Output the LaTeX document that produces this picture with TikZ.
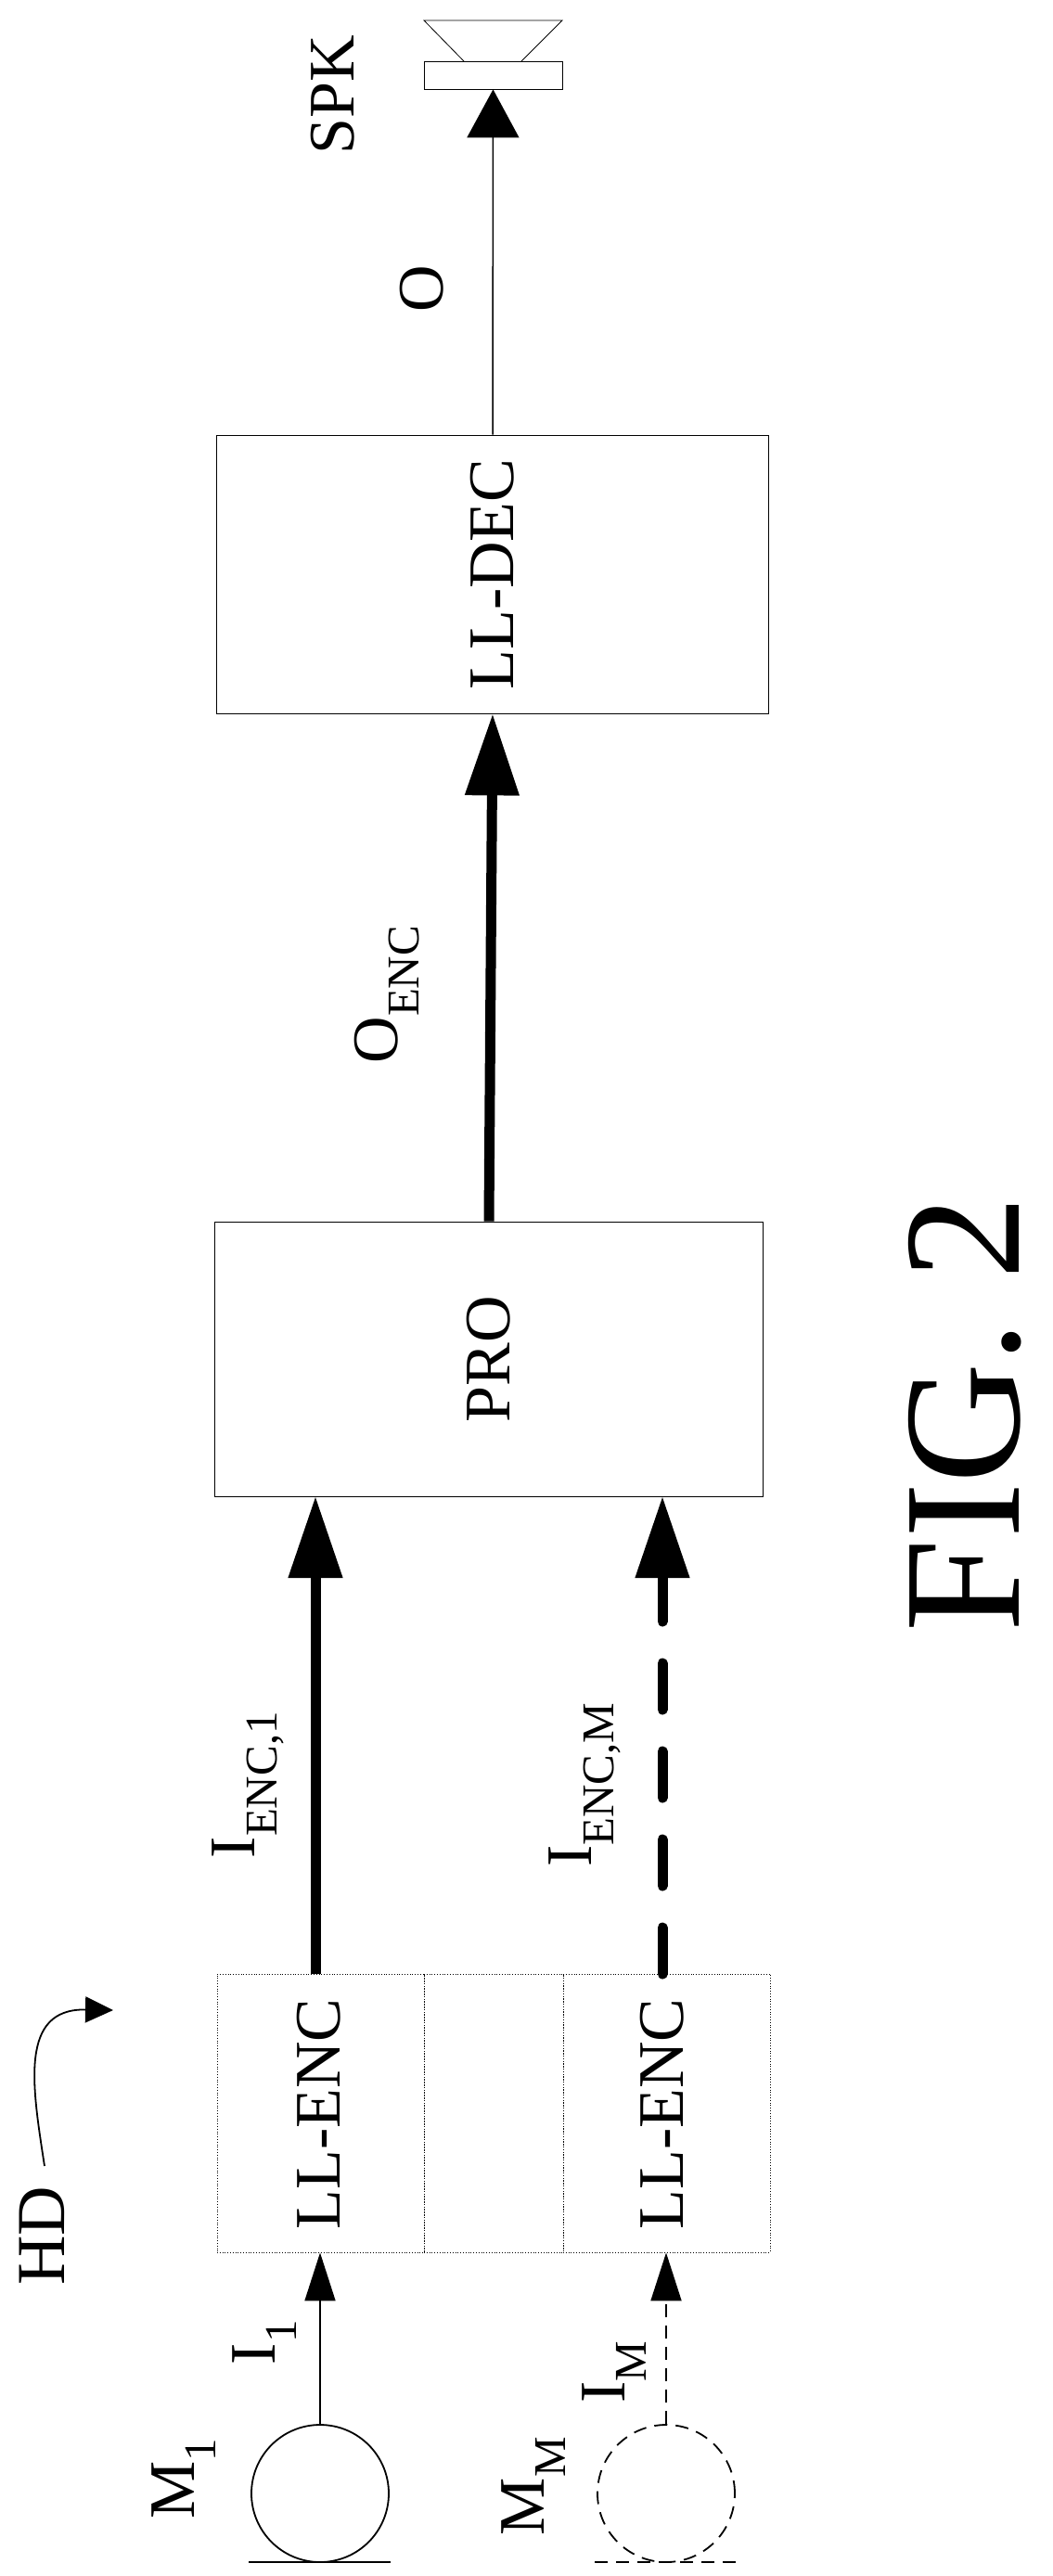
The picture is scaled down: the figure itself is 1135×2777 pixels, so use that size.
\documentclass[tikz,border=0pt]{standalone}
\usepackage{fontspec}
\setmainfont{Liberation Serif}
\usetikzlibrary{arrows.meta}
\begin{document}
\begin{tikzpicture}[x=1pt,y=-1pt,
  box/.style={draw,line width=0.8pt,inner sep=0},
  dbox/.style={draw,dotted,line width=0.8pt,inner sep=0},
  lbl/.style={font=\fontsize{70}{74}\selectfont,rotate=90,inner sep=0},
  dsh/.style={dash pattern=on 14pt off 9pt},
  thick/.style={line width=11pt,-{Triangle[length=88pt,width=56pt]}}]
\useasboundingbox (0,0) rectangle (1135,2777);
% boxes
\node[box,minimum width=595pt,minimum height=300pt] (dec) at (531,619) {};
\node[box,minimum width=591pt,minimum height=296pt] (pro) at (527,1465) {};
\node[dbox,minimum width=223pt,minimum height=300pt] (enc1) at (345.5,2278) {};
\node[dbox,minimum width=150pt,minimum height=300pt] (gap) at (532,2278) {};
\node[dbox,minimum width=223pt,minimum height=300pt] (enc2) at (718.5,2278) {};
\node[lbl] at (dec.center) {LL-DEC};
\node[lbl] at (pro.center) {PRO};
\node[lbl] at (344,2279) {LL-ENC};
\node[lbl] at (714,2279) {LL-ENC};
% speaker
\node[box,minimum width=149pt,minimum height=30pt] (spk) at (531.5,81) {};
\draw[line width=0.8pt] (500,66) -- (457,22) -- (606,22) -- (562,66);
\node[lbl] at (359,102) {SPK};
% arrows top
\draw[-{Triangle[length=52pt,width=56pt]},line width=1.5pt] (dec.north) -- (spk.south);
\node[lbl] at (455,311) {O};
\draw[thick] (pro.north) -- (dec.south);
\node[lbl] at (417,1072) {O\textsubscript{ENC}};
% mid arrows
\coordinate (p1) at (340,1613);
\coordinate (p2) at (714,1613);
\coordinate (s1) at (340,2128);
\coordinate (s2) at (714,2128);
\coordinate (d2) at (714,1700);
\draw[thick] (s1) -- (p1);
\draw[line width=11pt,line cap=round,dash pattern=on 50pt off 45pt] (s2) -- (d2);
\draw[thick] (d2) -- (p2);
\node[lbl] at (267,1924) {I\textsubscript{ENC,1}};
\node[lbl] at (630,1924) {I\textsubscript{ENC,M}};
% mics
\node[draw,line width=1.8pt,circle,minimum size=148pt,inner sep=0] (m1) at (345,2688) {};
\node[draw,line width=1.8pt,dsh,circle,minimum size=148pt,inner sep=0] (m2) at (718,2688) {};
\draw[line width=2.5pt] (268,2762) -- (421,2762);
\draw[line width=2.5pt,dsh] (641,2762) -- (793,2762);
\draw[line width=1.8pt,-{Triangle[length=52pt,width=33pt]}] (m1.north) -- (enc1.south -| m1.north);
\draw[line width=1.8pt,dsh,-{Triangle[length=52pt,width=33pt]}] (m2.north) -- (enc2.south -| m2.north);
\node[lbl] at (198,2672) {M\textsubscript{1}};
\node[lbl] at (285,2525) {I\textsubscript{1}};
\node[lbl] at (575,2680) {M\textsubscript{M}};
\node[lbl] at (662,2557) {I\textsubscript{M}};
% HD
\node[lbl,font=\fontsize{74}{78}\selectfont] (hd) at (45,2410) {HD};
\coordinate (hds) at (48,2335);
\coordinate (hdt) at (122,2167);
\draw[line width=1.8pt,-{Triangle[length=30pt,width=28pt]}] (hds) .. controls (35,2250) and (20,2165) .. (hdt);
% FIG
\node[rotate=90,inner sep=0,font=\fontsize{180}{190}\selectfont] (fig) at (1040,1524) {FIG. 2};
\end{tikzpicture}
\end{document}
